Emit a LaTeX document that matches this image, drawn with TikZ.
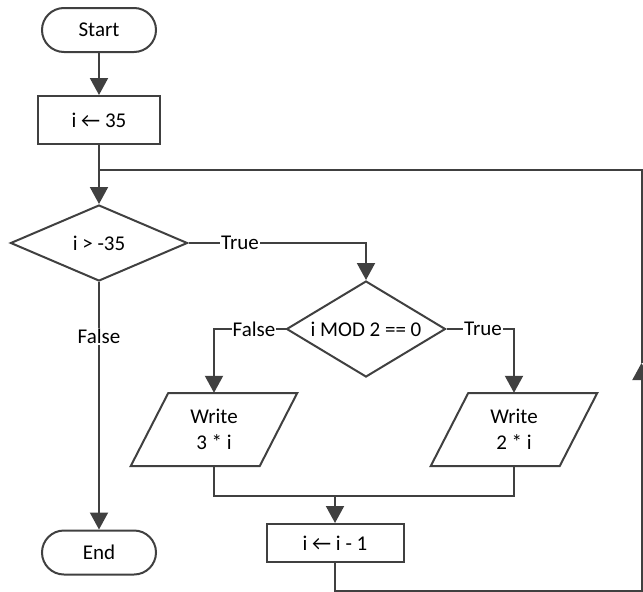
\documentclass[tikz,border=0pt]{standalone}
\usepackage{fontspec}
\setmainfont{Carlito}
\usetikzlibrary{arrows.meta,shapes.geometric,shapes.misc,calc}
\definecolor{ln}{HTML}{404040}
\begin{document}
\begin{tikzpicture}[x=1pt,y=-1pt, font=\fontsize{21}{26}\selectfont,
  base/.style={draw=ln, line width=2pt, text=black},
  term/.style={base, rounded rectangle, minimum width=114pt, minimum height=44pt, inner sep=0pt},
  proc/.style={base, rectangle, inner sep=0pt},
  dec/.style={base, diamond, inner sep=0pt},
  io/.style={inner sep=0pt, minimum height=73pt, align=center, text=black},
  flow/.style={draw=ln, line width=2pt, -{Triangle[width=18pt,length=17pt]}},
  line/.style={draw=ln, line width=2pt},
  lbl/.style={fill=white, inner sep=1pt, text=black}]
\useasboundingbox (0,0) rectangle (643,592);

\node[term] (start) at (99,30) {Start};
\node[proc, minimum width=122pt, minimum height=48pt] (init) at (99,120) {i ← 35};
\node[dec, aspect=2.3, minimum width=177pt, minimum height=76pt] (d1) at (99,243) {i > -35};
\node[dec, aspect=1.66, minimum width=159pt, minimum height=96pt] (d2) at (366,329) {i MOD 2 == 0};
\node[io] (w1) at (214,429.5) {Write\\3 * i};
\node[io] (w2) at (514,429.5) {Write\\2 * i};
\node[proc, minimum width=137pt, minimum height=38pt] (dec1) at (335,543) {i ← i - 1};
\node[term] (end) at (99,552.5) {End};

% parallelograms
\draw[line] ($(w1)+(-45.75,-36.5)$) -- ($(w1)+(83.25,-36.5)$) -- ($(w1)+(45.75,36.5)$) -- ($(w1)+(-83.25,36.5)$) -- cycle;
\draw[line] ($(w2)+(-45.75,-36.5)$) -- ($(w2)+(83.25,-36.5)$) -- ($(w2)+(45.75,36.5)$) -- ($(w2)+(-83.25,36.5)$) -- cycle;

\coordinate (m) at (335,496);
\coordinate (br) at (641.5,590.5);
\coordinate (ar) at (641.5,363);
\coordinate (tr) at (641.5,170);
\coordinate (j) at (99,170);

\draw[flow] (start) -- (init);
\draw[flow] (init) -- (d1);
\draw[flow] (d1.east) -- node[lbl, pos=0.29]{True} (d1.east -| d2.north) -- (d2.north);
\draw[flow] (d2.west) -- node[lbl, pos=0.44]{False} (d2.west -| w1.north) -- (w1.north);
\draw[flow] (d2.east) -- node[lbl, pos=0.54]{True} (d2.east -| w2.north) -- (w2.north);
\draw[flow] (d1.south) -- node[lbl, pos=0.22]{False} (end.north);
\draw[line] (w1.south) |- (m) -| (w2.south);
\draw[flow] (m) -- (dec1);
\draw[flow] (dec1.south) |- (br) -- (ar);
\draw[line] (ar) -- (tr) -- (j);
\end{tikzpicture}
\end{document}
